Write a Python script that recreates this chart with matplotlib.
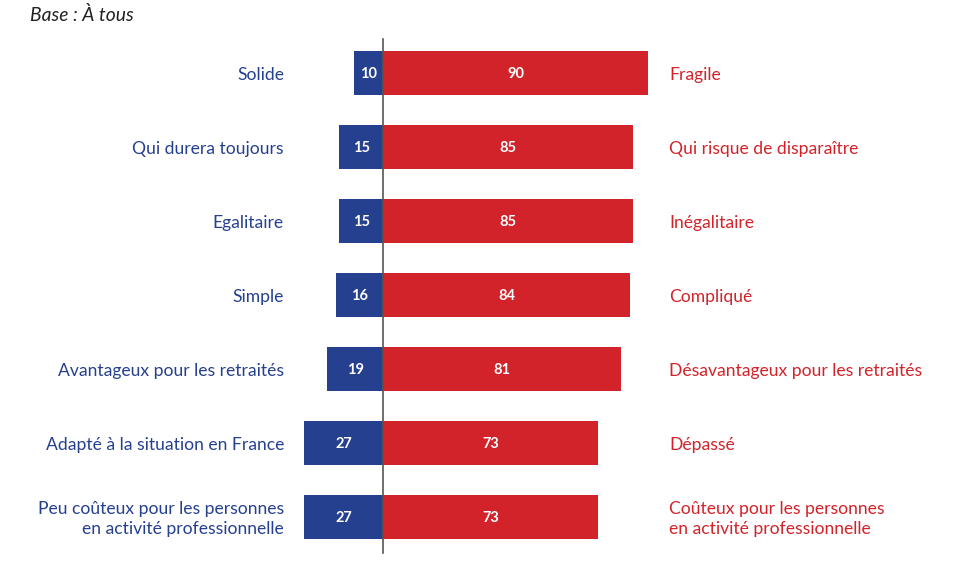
import matplotlib
matplotlib.use("Agg")
import matplotlib.pyplot as plt

left_labels = ["Solide", "Qui durera toujours", "Egalitaire", "Simple",
               "Avantageux pour les retraités", "Adapté à la situation en France",
               "Peu coûteux pour les personnes\nen activité professionnelle"]
right_labels = ["Fragile", "Qui risque de disparaître", "Inégalitaire", "Compliqué",
                "Désavantageux pour les retraités", "Dépassé",
                "Coûteux pour les personnes\nen activité professionnelle"]
blue_vals = [10, 15, 15, 16, 19, 27, 27]
red_vals = [90, 85, 85, 84, 81, 73, 73]
title = "Base : À tous"

BLUE = "#25408F"
RED = "#D2232A"
plt.rcParams['font.family'] = ['Lato', 'DejaVu Sans']

W, H = 957, 565
fig = plt.figure(figsize=(W/100, H/100), dpi=100)
ax = fig.add_axes([0, 0, 1, 1])
pxu = 2.94
x0 = 383.3
ax.set_xlim(-x0/pxu, (W - x0)/pxu)
y0, dy = 73, 74
ax.set_ylim((H - y0)/dy, -y0/dy)
ax.axis('off')

n = len(blue_vals)
ys = list(range(n))
h = 44/74
ax.barh(ys, [-v for v in blue_vals], height=h, color=BLUE, left=0)
ax.barh(ys, red_vals, height=h, color=RED, left=0)
ax.plot([0, 0], [(39-y0)/dy, (553-y0)/dy], color="#555555", lw=1.2)

lx = (284 - x0)/pxu
rx = (669 - x0)/pxu
for i in ys:
    ax.text(-blue_vals[i]/2, i + 0.02, str(blue_vals[i]), color='white', fontweight='bold',
            fontsize=10.5, ha='center', va='center')
    ax.text(red_vals[i]/2, i + 0.02, str(red_vals[i]), color='white', fontweight='bold',
            fontsize=10.5, ha='center', va='center')
    ax.text(lx, i + 0.03, left_labels[i], color=BLUE, fontsize=12.6, ha='right', va='center',
            linespacing=1.35)
    ax.text(rx, i + 0.03, right_labels[i], color=RED, fontsize=12.6, ha='left', va='center',
            linespacing=1.35)

fig.text(30/W, 1 - 15/H, title, fontsize=13.9, style='italic', color='#222222',
         ha='left', va='center')

fig.savefig("out.png", dpi=100)
